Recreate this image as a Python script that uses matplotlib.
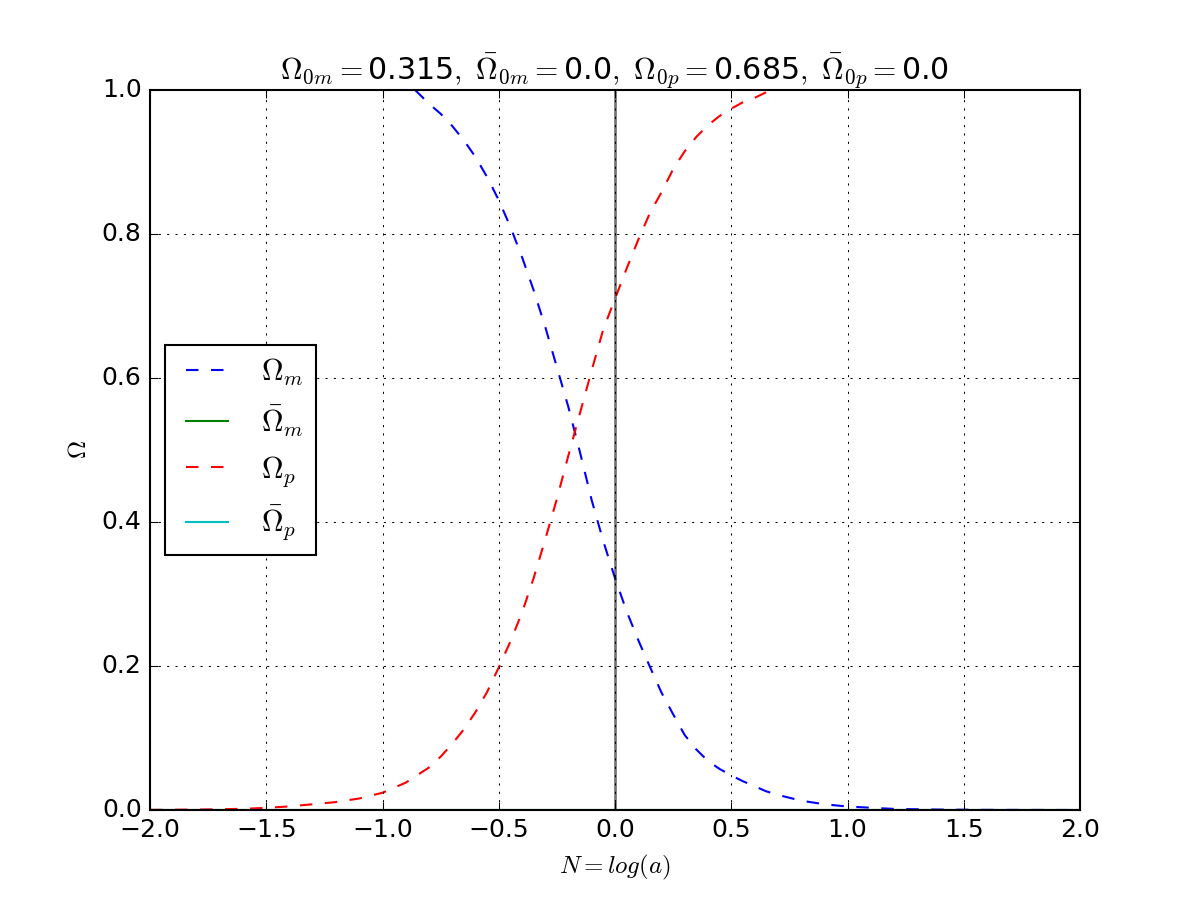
import matplotlib
matplotlib.use("Agg")
import matplotlib.pyplot as plt
import numpy as np

# values
N_m = [-0.86, -0.8, -0.75, -0.7, -0.65, -0.6, -0.55, -0.5, -0.45, -0.4, -0.35,
       -0.3, -0.25, -0.2, -0.15, -0.1, -0.05, 0.0, 0.05, 0.1, 0.15, 0.2, 0.25,
       0.3, 0.35, 0.4, 0.45, 0.5, 0.55, 0.6, 0.65, 0.7, 0.8, 0.9, 1.0, 1.2, 1.4,
       1.6, 1.8, 2.0]
omega_m = [1.0, 0.981, 0.967, 0.950, 0.930, 0.907, 0.879, 0.847, 0.810, 0.768,
           0.722, 0.671, 0.615, 0.559, 0.496, 0.430, 0.373, 0.322, 0.276, 0.236,
           0.199, 0.163, 0.133, 0.104, 0.084, 0.068, 0.057, 0.048, 0.040, 0.033,
           0.026, 0.021, 0.013, 0.008, 0.0048, 0.0015, 0.0006, 0.0002, 0.0001, 0.0]

N_p = [-2.0, -1.8, -1.6, -1.5, -1.4, -1.3, -1.2, -1.1, -1.0, -0.9, -0.8, -0.75,
       -0.7, -0.65, -0.6, -0.55, -0.5, -0.45, -0.4, -0.35, -0.3, -0.25, -0.2,
       -0.15, -0.1, -0.05, 0.0, 0.05, 0.1, 0.15, 0.2, 0.25, 0.3, 0.35, 0.4, 0.45,
       0.5, 0.55, 0.6, 0.67]
omega_p = [0.0002, 0.0006, 0.0016, 0.003, 0.005, 0.008, 0.011, 0.016, 0.024, 0.038,
           0.059, 0.074, 0.092, 0.112, 0.136, 0.164, 0.198, 0.234, 0.274, 0.322,
           0.376, 0.432, 0.493, 0.552, 0.611, 0.668, 0.710, 0.752, 0.792, 0.829,
           0.858, 0.890, 0.915, 0.935, 0.951, 0.964, 0.974, 0.983, 0.989, 1.0]

N_bar = [-2.0, 2.0]
omega_m_bar = [0.0, 0.0]
omega_p_bar = [0.0, 0.0]

plt.style.use('classic')
fig = plt.figure(figsize=(8, 6), dpi=150)
ax = fig.add_subplot(111)

ax.plot(N_m, omega_m, 'b--', label=r'$\Omega_m$')
ax.plot(N_bar, omega_m_bar, 'g-', label=r'$\bar{\Omega}_m$')
ax.plot(N_p, omega_p, 'r--', label=r'$\Omega_p$')
ax.plot(N_bar, omega_p_bar, 'c-', label=r'$\bar{\Omega}_p$')
ax.axvline(0.0, color='k', alpha=0.55, lw=1.3)

ax.set_xlim(-2, 2)
ax.set_ylim(0, 1)
ax.grid(True)
ax.set_xlabel(r'$N=log(a)$')
ax.set_ylabel(r'$\Omega$')
ax.set_title(r'$\Omega_{0m}=$0.315$,\ \bar{\Omega}_{0m}=$0.0$,\ \Omega_{0p}=$0.685$,\ \bar{\Omega}_{0p}=$0.0')
ax.legend(loc='center left')

fig.savefig('out.png', dpi=150)
